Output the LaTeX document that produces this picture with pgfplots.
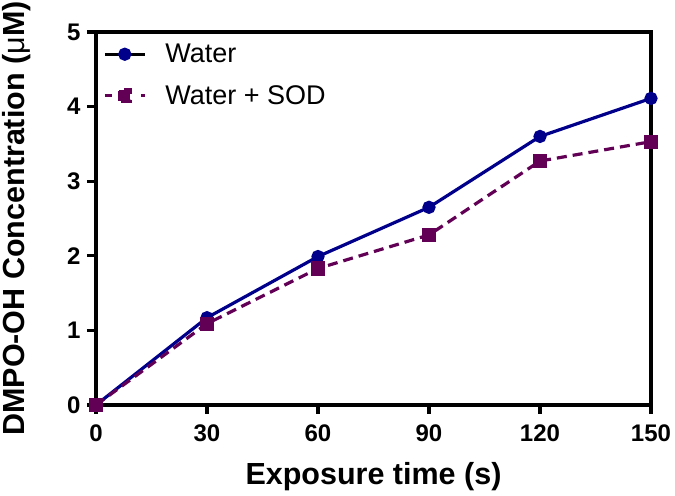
\documentclass[border=0pt]{standalone}
\usepackage{fontspec}
\setmainfont{Liberation Sans}
\setsansfont{Liberation Sans}
\usepackage{pgfplots}
\pgfplotsset{compat=1.18}
\definecolor{wnavy}{RGB}{0,0,139}
\definecolor{spurple}{RGB}{98,0,86}
\begin{document}
\begin{tikzpicture}
\begin{axis}[
  name=ax, at={(0,0)}, anchor=south west,
  scale only axis, width=555pt, height=373pt,
  xmin=0, xmax=150, ymin=0, ymax=5,
  xtick={0,30,60,90,120,150}, ytick={0,1,2,3,4,5},
  axis line style={line width=3.2pt},
  tick align=outside, major tick length=9pt,
  every tick/.style={black, line width=3.2pt},
  xtick pos=bottom, ytick pos=left,
  tick label style={font=\fontsize{24}{24}\selectfont\bfseries},
  xticklabel style={yshift=-7pt},
  yticklabel style={xshift=-3pt},
  /pgf/number format/assume math mode=true,
  xlabel={Exposure time (s)},
  ylabel={DMPO-OH Concentration ({\mdseries μ}M)},
  label style={font=\fontsize{30.5}{30.5}\selectfont\bfseries},
  xlabel style={at={(axis description cs:0.5,0)}, anchor=base, yshift=-80pt},
  ylabel style={at={([xshift=-71pt]axis description cs:0,0.5)}, anchor=base},
  clip=false,
  legend style={draw=none, fill=none, at={(axis description cs:0,1)}, anchor=north west,
    xshift=4pt, yshift=-8pt,
    font=\fontsize{27}{27}\selectfont, row sep=17pt,
    nodes={inner xsep=12pt},
    /tikz/every odd column/.append style={column sep=7pt}},
  legend cell align=left,
]
\addplot[wnavy, line width=3.2pt, mark=*, mark size=5pt, mark options={solid},
  legend image code/.code={
    \draw[solid, draw=black, line width=3.2pt] (0pt,0pt) -- (40pt,0pt);
    \fill[wnavy] (20pt,0pt) circle (5pt);}]
  coordinates {(0,0) (30,1.17) (60,1.99) (90,2.65) (120,3.60) (150,4.11)};
\addlegendentry{Water}
\addplot[spurple, line width=3.2pt, dash pattern=on 10pt off 6pt, mark=square*, mark size=5.5pt, mark options={solid},
  legend image code/.code={
    \draw[solid, spurple, line width=3.2pt] (0pt,0pt) -- (7pt,0pt);
    \draw[solid, spurple, line width=3.2pt] (36pt,0pt) -- (40pt,0pt);
    \fill[spurple] (14.5pt,-5.5pt) rectangle (25.5pt,5.5pt);}]
  coordinates {(0,0) (30,1.09) (60,1.83) (90,2.28) (120,3.27) (150,3.53)};
\addlegendentry{Water + SOD}
\end{axis}
\pgfresetboundingbox
\path[use as bounding box] ([xshift=-96pt,yshift=-91pt]ax.south west) rectangle ([xshift=24pt,yshift=32pt]ax.north east);
\end{tikzpicture}
\end{document}
